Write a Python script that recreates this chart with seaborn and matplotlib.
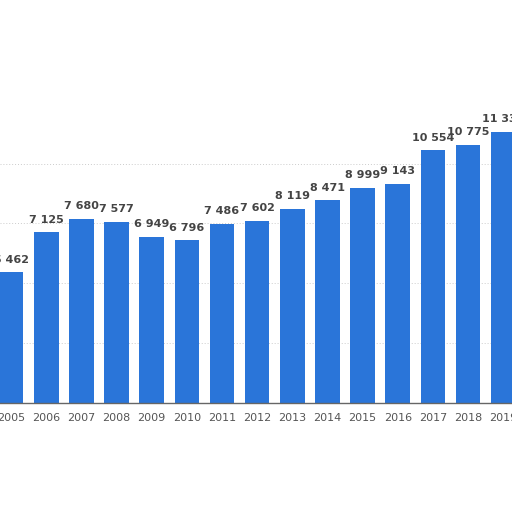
import matplotlib
matplotlib.use("Agg")
import matplotlib.pyplot as plt
import seaborn as sns
import pandas as pd

years = [str(y) for y in range(2005, 2020)]
values = [5462, 7125, 7680, 7577, 6949, 6796, 7486, 7602, 8119, 8471,
          8999, 9143, 10554, 10775, 11330]

df = pd.DataFrame({"year": years, "value": values})

sns.set_style("white")
plt.rcParams['font.family'] = ['DejaVu Sans']

fig = plt.figure(figsize=(5.12, 5.12), dpi=100)
ax = fig.add_axes([0, 109 / 512, 1, 403 / 512])

sns.barplot(data=df, x="year", y="value", color="#2a75d9", width=0.70,
            saturation=1, linewidth=0, ax=ax)

ax.set_xlim(-0.316, 14.25)
ax.set_ylim(0, 16833)

for yv in [2500, 5000, 7500, 10000]:
    ax.axhline(yv, color="#cccccc", lw=0.7, ls=(0, (1, 2)), zorder=0)

for i, v in enumerate(values):
    txt = f"{v:,}".replace(",", " ")
    ax.text(i, v + 320, txt, ha="center", va="bottom", fontsize=8,
            fontweight="bold", color="#444444")

for s in ["top", "right", "left"]:
    ax.spines[s].set_visible(False)
ax.spines["bottom"].set_color("#666666")
ax.spines["bottom"].set_linewidth(1)

ax.set_yticks([])
ax.tick_params(axis="x", length=0, labelsize=8, labelcolor="#555555", pad=7)
ax.set_xlabel("")
ax.set_ylabel("")

fig.savefig("out.png", dpi=100)
